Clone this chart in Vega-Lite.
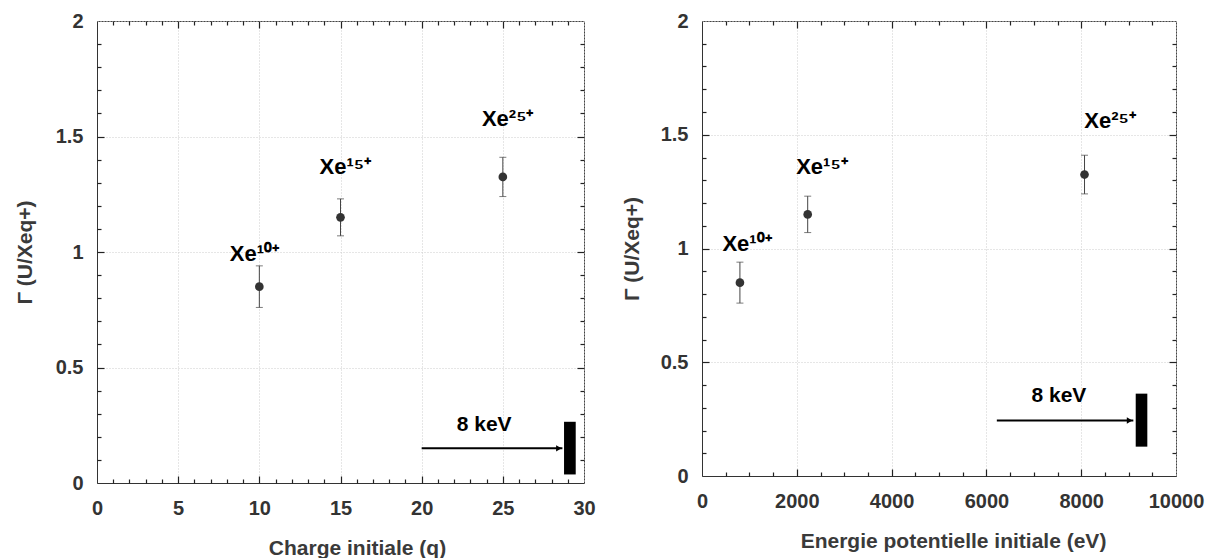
{
  "$schema": "https://vega.github.io/schema/vega-lite/v6.json",
  "padding": {"left": 13, "top": 10, "right": 0, "bottom": 0},
  "background": "white",
  "spacing": 24,
  "config": {
    "view": {"stroke": "#444", "strokeWidth": 1},
    "font": "Liberation Sans",
    "axis": {
      "labelFont": "Liberation Sans", "labelFontWeight": "bold", "labelFontSize": 20, "labelColor": "#333",
      "titleFont": "Liberation Sans", "titleFontWeight": "bold", "titleFontSize": 21, "titleColor": "#3a3a3a",
      "labelOverlap": false, "labelFlush": false, "labelBound": false,
      "gridColor": "#cccccc", "gridDash": [1, 2], "gridWidth": 1,
      "domainColor": "#333", "tickColor": "#222", "tickWidth": 1.2, "zindex": 1
    }
  },
  "datasets": {
    "pts": [
      {"ion": "Xe10+", "q": 10, "E": 800, "gamma": 0.85, "lo": 0.76, "hi": 0.94},
      {"ion": "Xe15+", "q": 15, "E": 2230, "gamma": 1.15, "lo": 1.07, "hi": 1.23},
      {"ion": "Xe25+", "q": 25, "E": 8070, "gamma": 1.325, "lo": 1.24, "hi": 1.41}
    ],
    "labL": [
      {"text": "Xe¹⁰⁺", "x": 9.7, "y": 0.99},
      {"text": "Xe¹⁵⁺", "x": 15.3, "y": 1.37},
      {"text": "Xe²⁵⁺", "x": 25.3, "y": 1.575}
    ],
    "labR": [
      {"text": "Xe¹⁰⁺", "x": 950, "y": 1.02},
      {"text": "Xe¹⁵⁺", "x": 2530, "y": 1.36},
      {"text": "Xe²⁵⁺", "x": 8610, "y": 1.56}
    ],
    "annL": [
      {"x1": 20, "x2": 28.67, "ax": 28.45, "y": 0.15, "rx1": 28.77, "rx2": 29.49, "ry1": 0.037, "ry2": 0.265, "tx": 23.85, "ty": 0.253, "label": "8 keV"}
    ],
    "annR": [
      {"x1": 6220, "x2": 9100, "ax": 9020, "y": 0.244, "rx1": 9150, "rx2": 9395, "ry1": 0.129, "ry2": 0.362, "tx": 7530, "ty": 0.352, "label": "8 keV"}
    ]
  },
  "hconcat": [
    {
      "width": 487,
      "height": 462,
      "resolve": {"axis": {"x": "independent", "y": "independent"}},
      "layer": [
        {
          "data": {"name": "pts"},
          "mark": {"type": "rule", "color": "#444", "strokeWidth": 1},
          "encoding": {
            "x": {"field": "q", "type": "quantitative", "scale": {"domain": [0, 30], "nice": false, "zero": false},
              "axis": {"orient": "bottom", "values": [0, 5, 10, 15, 20, 25, 30], "format": "d", "ticks": false, "grid": true, "domain": true, "labelPadding": 15, "title": "Charge initiale (q)", "titlePadding": 19, "titleX": 260, "zindex": 0}},
            "y": {"field": "lo", "type": "quantitative", "scale": {"domain": [0, 2], "nice": false, "zero": false},
              "axis": {"orient": "left", "values": [0, 0.5, 1, 1.5, 2], "format": "~g", "ticks": false, "grid": true, "domain": true, "labelPadding": 14, "title": "Γ (U/Xeq+)", "titlePadding": 20, "zindex": 0}},
            "y2": {"field": "hi"}
          }
        },
        {
          "data": {"name": "pts"},
          "mark": {"type": "tick", "orient": "horizontal", "size": 7, "thickness": 1, "color": "#444"},
          "encoding": {
            "x": {"field": "q", "type": "quantitative",
              "axis": {"orient": "bottom", "offset": -4, "values": [1,2,3,4,6,7,8,9,11,12,13,14,16,17,18,19,21,22,23,24,26,27,28,29], "labels": false, "domain": false, "grid": false, "title": null, "ticks": true, "tickSize": 4}},
            "y": {"field": "lo", "type": "quantitative",
              "axis": {"orient": "left", "offset": -4, "values": [0.1,0.2,0.3,0.4,0.6,0.7,0.8,0.9,1.1,1.2,1.3,1.4,1.6,1.7,1.8,1.9], "labels": false, "domain": false, "grid": false, "title": null, "ticks": true, "tickSize": 4}}
          }
        },
        {
          "data": {"name": "pts"},
          "mark": {"type": "tick", "orient": "horizontal", "size": 7, "thickness": 1, "color": "#444"},
          "encoding": {
            "x": {"field": "q", "type": "quantitative",
              "axis": {"orient": "top", "offset": -4, "values": [1,2,3,4,6,7,8,9,11,12,13,14,16,17,18,19,21,22,23,24,26,27,28,29], "labels": false, "domain": false, "grid": false, "title": null, "ticks": true, "tickSize": 4}},
            "y": {"field": "hi", "type": "quantitative",
              "axis": {"orient": "right", "offset": -4, "values": [0.1,0.2,0.3,0.4,0.6,0.7,0.8,0.9,1.1,1.2,1.3,1.4,1.6,1.7,1.8,1.9], "labels": false, "domain": false, "grid": false, "title": null, "ticks": true, "tickSize": 4}}
          }
        },
        {
          "data": {"name": "pts"},
          "mark": {"type": "point", "filled": true, "size": 75, "color": "#333", "opacity": 1},
          "encoding": {
            "x": {"field": "q", "type": "quantitative",
              "axis": {"orient": "bottom", "offset": -7, "values": [5, 10, 15, 20, 25], "labels": false, "domain": false, "grid": false, "title": null, "ticks": true, "tickSize": 7}},
            "y": {"field": "gamma", "type": "quantitative",
              "axis": {"orient": "left", "offset": -7, "values": [0.5, 1, 1.5], "labels": false, "domain": false, "grid": false, "title": null, "ticks": true, "tickSize": 7}}
          }
        },
        {
          "data": {"name": "labL"},
          "mark": {"type": "text", "font": "Liberation Sans", "fontWeight": "bold", "fontSize": 22, "color": "#000", "align": "center", "baseline": "middle"},
          "encoding": {
            "x": {"field": "x", "type": "quantitative",
              "axis": {"orient": "top", "offset": -7, "values": [5, 10, 15, 20, 25], "labels": false, "domain": false, "grid": false, "title": null, "ticks": true, "tickSize": 7}},
            "y": {"field": "y", "type": "quantitative",
              "axis": {"orient": "right", "offset": -7, "values": [0.5, 1, 1.5], "labels": false, "domain": false, "grid": false, "title": null, "ticks": true, "tickSize": 7}},
            "text": {"field": "text"}
          }
        },
        {
          "data": {"name": "annL"},
          "mark": {"type": "rule", "color": "#000", "strokeWidth": 2},
          "encoding": {
            "x": {"field": "x1", "type": "quantitative", "axis": null},
            "x2": {"field": "x2"},
            "y": {"field": "y", "type": "quantitative", "axis": null}
          }
        },
        {
          "data": {"name": "annL"},
          "mark": {"type": "point", "shape": "triangle-right", "filled": true, "size": 40, "color": "#000", "opacity": 1},
          "encoding": {
            "x": {"field": "ax", "type": "quantitative", "axis": null},
            "y": {"field": "y", "type": "quantitative", "axis": null}
          }
        },
        {
          "data": {"name": "annL"},
          "mark": {"type": "rect", "color": "#000"},
          "encoding": {
            "x": {"field": "rx1", "type": "quantitative", "axis": null},
            "x2": {"field": "rx2"},
            "y": {"field": "ry1", "type": "quantitative", "axis": null},
            "y2": {"field": "ry2"}
          }
        },
        {
          "data": {"name": "annL"},
          "mark": {"type": "text", "font": "Liberation Sans", "fontWeight": "bold", "fontSize": 21, "color": "#000", "align": "center", "baseline": "middle"},
          "encoding": {
            "x": {"field": "tx", "type": "quantitative", "axis": null},
            "y": {"field": "ty", "type": "quantitative", "axis": null},
            "text": {"field": "label"}
          }
        }
      ]
    },
    {
      "width": 474,
      "height": 455,
      "resolve": {"axis": {"x": "independent", "y": "independent"}},
      "layer": [
        {
          "data": {"name": "pts"},
          "mark": {"type": "rule", "color": "#444", "strokeWidth": 1},
          "encoding": {
            "x": {"field": "E", "type": "quantitative", "scale": {"domain": [0, 10000], "nice": false, "zero": false},
              "axis": {"orient": "bottom", "values": [0, 2000, 4000, 6000, 8000, 10000], "format": "d", "ticks": false, "grid": true, "domain": true, "labelPadding": 15, "title": "Energie potentielle initiale (eV)", "titlePadding": 19, "titleX": 251, "zindex": 0}},
            "y": {"field": "lo", "type": "quantitative", "scale": {"domain": [0, 2], "nice": false, "zero": false},
              "axis": {"orient": "left", "values": [0, 0.5, 1, 1.5, 2], "format": "~g", "ticks": false, "grid": true, "domain": true, "labelPadding": 14, "title": "Γ (U/Xeq+)", "titlePadding": 18, "zindex": 0}},
            "y2": {"field": "hi"}
          }
        },
        {
          "data": {"name": "pts"},
          "mark": {"type": "tick", "orient": "horizontal", "size": 7, "thickness": 1, "color": "#444"},
          "encoding": {
            "x": {"field": "E", "type": "quantitative",
              "axis": {"orient": "bottom", "offset": -4, "values": [500,1000,1500,2500,3000,3500,4500,5000,5500,6500,7000,7500,8500,9000,9500], "labels": false, "domain": false, "grid": false, "title": null, "ticks": true, "tickSize": 4}},
            "y": {"field": "lo", "type": "quantitative",
              "axis": {"orient": "left", "offset": -4, "values": [0.1,0.2,0.3,0.4,0.6,0.7,0.8,0.9,1.1,1.2,1.3,1.4,1.6,1.7,1.8,1.9], "labels": false, "domain": false, "grid": false, "title": null, "ticks": true, "tickSize": 4}}
          }
        },
        {
          "data": {"name": "pts"},
          "mark": {"type": "tick", "orient": "horizontal", "size": 7, "thickness": 1, "color": "#444"},
          "encoding": {
            "x": {"field": "E", "type": "quantitative",
              "axis": {"orient": "top", "offset": -4, "values": [500,1000,1500,2500,3000,3500,4500,5000,5500,6500,7000,7500,8500,9000,9500], "labels": false, "domain": false, "grid": false, "title": null, "ticks": true, "tickSize": 4}},
            "y": {"field": "hi", "type": "quantitative",
              "axis": {"orient": "right", "offset": -4, "values": [0.1,0.2,0.3,0.4,0.6,0.7,0.8,0.9,1.1,1.2,1.3,1.4,1.6,1.7,1.8,1.9], "labels": false, "domain": false, "grid": false, "title": null, "ticks": true, "tickSize": 4}}
          }
        },
        {
          "data": {"name": "pts"},
          "mark": {"type": "point", "filled": true, "size": 75, "color": "#333", "opacity": 1},
          "encoding": {
            "x": {"field": "E", "type": "quantitative",
              "axis": {"orient": "bottom", "offset": -7, "values": [2000, 4000, 6000, 8000], "labels": false, "domain": false, "grid": false, "title": null, "ticks": true, "tickSize": 7}},
            "y": {"field": "gamma", "type": "quantitative",
              "axis": {"orient": "left", "offset": -7, "values": [0.5, 1, 1.5], "labels": false, "domain": false, "grid": false, "title": null, "ticks": true, "tickSize": 7}}
          }
        },
        {
          "data": {"name": "labR"},
          "mark": {"type": "text", "font": "Liberation Sans", "fontWeight": "bold", "fontSize": 22, "color": "#000", "align": "center", "baseline": "middle"},
          "encoding": {
            "x": {"field": "x", "type": "quantitative",
              "axis": {"orient": "top", "offset": -7, "values": [2000, 4000, 6000, 8000], "labels": false, "domain": false, "grid": false, "title": null, "ticks": true, "tickSize": 7}},
            "y": {"field": "y", "type": "quantitative",
              "axis": {"orient": "right", "offset": -7, "values": [0.5, 1, 1.5], "labels": false, "domain": false, "grid": false, "title": null, "ticks": true, "tickSize": 7}},
            "text": {"field": "text"}
          }
        },
        {
          "data": {"name": "annR"},
          "mark": {"type": "rule", "color": "#000", "strokeWidth": 2},
          "encoding": {
            "x": {"field": "x1", "type": "quantitative", "axis": null},
            "x2": {"field": "x2"},
            "y": {"field": "y", "type": "quantitative", "axis": null}
          }
        },
        {
          "data": {"name": "annR"},
          "mark": {"type": "point", "shape": "triangle-right", "filled": true, "size": 40, "color": "#000", "opacity": 1},
          "encoding": {
            "x": {"field": "ax", "type": "quantitative", "axis": null},
            "y": {"field": "y", "type": "quantitative", "axis": null}
          }
        },
        {
          "data": {"name": "annR"},
          "mark": {"type": "rect", "color": "#000"},
          "encoding": {
            "x": {"field": "rx1", "type": "quantitative", "axis": null},
            "x2": {"field": "rx2"},
            "y": {"field": "ry1", "type": "quantitative", "axis": null},
            "y2": {"field": "ry2"}
          }
        },
        {
          "data": {"name": "annR"},
          "mark": {"type": "text", "font": "Liberation Sans", "fontWeight": "bold", "fontSize": 21, "color": "#000", "align": "center", "baseline": "middle"},
          "encoding": {
            "x": {"field": "tx", "type": "quantitative", "axis": null},
            "y": {"field": "ty", "type": "quantitative", "axis": null},
            "text": {"field": "label"}
          }
        }
      ]
    }
  ]
}
